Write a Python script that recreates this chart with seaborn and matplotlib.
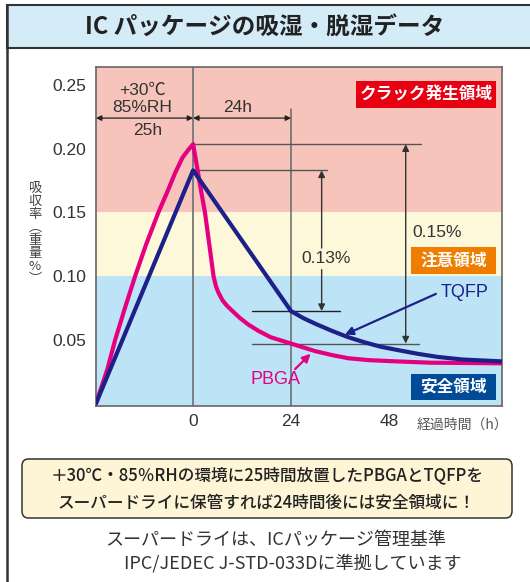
import matplotlib
matplotlib.use("Agg")
import matplotlib.pyplot as plt
import seaborn as sns
import pandas as pd
from matplotlib.patches import Rectangle, FancyBboxPatch
from matplotlib.lines import Line2D

# ---------------- data ----------------
pbga_x = [-23.8, -21.0, -19.1, -16.5, -14.2, -11.5, -8.5, -6.2, -4.4, -2.6, -1.2, 0.0,
          1.0, 2.0, 2.9, 4.0, 5.0, 5.6, 6.2, 7.2, 8.2, 9.5, 11.5, 13.5, 16.0, 19.0, 22.0,
          24.0, 27.0, 30.0, 34.0, 38.0, 43.0, 50.0, 58.0, 66.0, 75.7]
pbga_y = [0.0, 0.027, 0.050, 0.077, 0.100, 0.125, 0.150, 0.167, 0.181, 0.193, 0.199, 0.2035,
          0.185, 0.166, 0.150, 0.124, 0.100, 0.092, 0.087, 0.081, 0.077, 0.073, 0.067, 0.062,
          0.057, 0.052, 0.049, 0.047, 0.044, 0.041, 0.038, 0.0355, 0.034, 0.033, 0.032,
          0.0318, 0.0315]
tqfp_x = [-23.8, 0.0, 24.0, 27.0, 30.0, 34.0, 38.0, 42.0, 46.0, 50.0, 55.0, 60.0, 66.0, 75.7]
tqfp_y = [0.0, 0.183, 0.0725, 0.067, 0.0625, 0.057, 0.052, 0.048, 0.0445, 0.042, 0.039,
          0.0365, 0.0345, 0.033]

zone_limits = [0.10, 0.15]            # safe / caution / crack thresholds
zone_labels = ["安全領域", "注意領域", "クラック発生領域"]
y_ticks = [0.05, 0.10, 0.15, 0.20, 0.25]
y_ticklabels = ["0.05", "0.10", "0.15", "0.20", "0.25"]
x_ticks = [0, 24, 48]
x_ticklabels = ["0", "24", "48"]
xlim = (-23.8, 75.7)
ylim = (-0.002, 0.2641)

pbga_peak = 0.2035
tqfp_peak = 0.183
tqfp_24h = 0.0725
pbga_24h = 0.047

title = "IC パッケージの吸湿・脱湿データ"
box_lines = ["＋30℃・85％RHの環境に25時間放置したPBGAとTQFPを",
             "スーパードライに保管すれば24時間後には安全領域に！"]
note_lines = ["スーパードライは、ICパッケージ管理基準",
              "IPC/JEDEC J-STD-033Dに準拠しています"]

# ---------------- style ----------------
sns.set_theme(style="white")
plt.rcParams['font.family'] = ['Noto Sans CJK JP', 'DejaVu Sans']
LATIN = ['Liberation Sans', 'Noto Sans CJK JP', 'DejaVu Sans']

MAGENTA = "#E4007F"
NAVY = "#1D2088"
RED_BG = "#F7C4BB"
YEL_BG = "#FEF8DA"
BLUE_BG = "#BDE3F7"
GRAY = "#555555"
TXT = "#333333"

W, H = 530, 582
fig = plt.figure(figsize=(W / 100, H / 100), dpi=100)
fig.patch.set_facecolor("white")

def fx(x):
    return x / W

def fy(y):
    return 1 - y / H

ax = fig.add_axes([fx(96), fy(406), fx(502) - fx(96), fy(67) - fy(406)])

# zones
ax.axhspan(ylim[0], zone_limits[0], color=BLUE_BG, lw=0, zorder=0)
ax.axhspan(zone_limits[0], zone_limits[1], color=YEL_BG, lw=0, zorder=0)
ax.axhspan(zone_limits[1], ylim[1], color=RED_BG, lw=0, zorder=0)

# reference lines
ax.axvline(0, color="#777777", lw=1.3, zorder=1)
ax.plot([24, 24], [ylim[0], 0.231], color="#666666", lw=1.1, zorder=1)
ax.plot([0, 55.8], [pbga_peak, pbga_peak], color=GRAY, lw=1.0, zorder=1)
ax.plot([0, 32.8], [tqfp_peak, tqfp_peak], color=GRAY, lw=1.0, zorder=1)
ax.plot([14.4, 36.0], [tqfp_24h, tqfp_24h], color="#222222", lw=1.0, zorder=1)
ax.plot([14.4, 55.4], [pbga_24h, pbga_24h], color=GRAY, lw=1.0, zorder=1)

# curves
df_p = pd.DataFrame({"x": pbga_x, "y": pbga_y})
df_t = pd.DataFrame({"x": tqfp_x, "y": tqfp_y})
sns.lineplot(data=df_p, x="x", y="y", ax=ax, color=MAGENTA, lw=3.0, estimator=None,
             sort=False, zorder=3)
sns.lineplot(data=df_t, x="x", y="y", ax=ax, color=NAVY, lw=3.0, estimator=None,
             sort=False, zorder=3)

ax.set_xlim(*xlim)
ax.set_ylim(*ylim)
ax.set_xticks(x_ticks)
ax.set_xticklabels(x_ticklabels, family=LATIN)
ax.set_yticks(y_ticks)
ax.set_yticklabels(y_ticklabels, family=LATIN)
ax.set_xlabel("")
ax.set_ylabel("")
ax.tick_params(axis="both", direction="inout", length=10, width=1.0, color=GRAY,
               labelsize=12.5, labelcolor=TXT)
ax.tick_params(axis="y", pad=2)
ax.tick_params(axis="x", pad=1)
for s in ax.spines.values():
    s.set_color("#666666")
    s.set_linewidth(1.2)
    s.set_visible(True)

# horizontal time arrows
arrow_kw = dict(arrowstyle="<|-|>", color="#222222", lw=0.9, mutation_scale=8,
                shrinkA=0, shrinkB=0)
ax.annotate("", xy=(0, 0.224), xytext=(xlim[0], 0.224), arrowprops=arrow_kw, zorder=4)
ax.annotate("", xy=(24, 0.224), xytext=(0, 0.224), arrowprops=arrow_kw, zorder=4)
tk = dict(ha="center", va="center", fontsize=12.5, color=TXT, family=LATIN)
ax.text(-12.5, 0.246, "+30℃", **tk)
ax.text(-12.5, 0.232, "85%RH", **tk)
ax.text(-11.2, 0.2145, "25h", **tk)
ax.text(11.0, 0.232, "24h", **tk)

# vertical difference arrows
one_kw = dict(arrowstyle="-|>", color="#333333", lw=1.0, mutation_scale=10,
              shrinkA=0, shrinkB=0)
ax.annotate("", xy=(31.5, tqfp_peak), xytext=(31.5, 0.122), arrowprops=one_kw, zorder=4)
ax.annotate("", xy=(31.5, tqfp_24h), xytext=(31.5, 0.105), arrowprops=one_kw, zorder=4)
ax.text(32.6, 0.1135, "0.13%", **tk)
two_kw = dict(arrowstyle="<|-|>", color="#333333", lw=1.0, mutation_scale=10,
              shrinkA=0, shrinkB=0)
ax.annotate("", xy=(52.1, pbga_peak), xytext=(52.1, pbga_24h), arrowprops=two_kw, zorder=4)
ax.text(59.8, 0.1345, "0.15%", **tk)

# series labels
ax.annotate("", xy=(37.2, 0.054), xytext=(59.5, 0.086),
            arrowprops=dict(arrowstyle="-|>", color=NAVY, lw=1.6, mutation_scale=12,
                            shrinkA=0, shrinkB=0), zorder=5)
ax.text(60.6, 0.087, "TQFP", ha="left", va="center", fontsize=13, color=NAVY, family=LATIN)
ax.annotate("", xy=(28.8, 0.039), xytext=(25.0, 0.027),
            arrowprops=dict(arrowstyle="-|>", color=MAGENTA, lw=1.6, mutation_scale=12,
                            shrinkA=0, shrinkB=0), zorder=5)
ax.text(20.3, 0.0186, "PBGA", ha="center", va="center", fontsize=13, color=MAGENTA,
        family=LATIN)

# zone label boxes (figure pixel coords)
def label_box(x0, y0, x1, y1, color, text):
    fig.add_artist(Rectangle((fx(x0), fy(y1)), fx(x1) - fx(x0), fy(y0) - fy(y1),
                             transform=fig.transFigure, facecolor=color, edgecolor="none",
                             zorder=5))
    fig.text(fx((x0 + x1) / 2), fy((y0 + y1) / 2), text, ha="center", va="center",
             color="white", fontsize=12, fontweight="bold", zorder=6)

label_box(356, 81, 496, 108, "#E60012", zone_labels[2])
label_box(411, 247, 496, 274, "#EE7D00", zone_labels[1])
label_box(411, 374, 496, 400, "#004A97", zone_labels[0])

# axis titles
fig.text(fx(35), fy(234), "吸\n収\n率\n︵\n重\n量\n%\n︶", ha="center", va="center",
         fontsize=9.5, color="#444444", linespacing=1.0)
fig.text(fx(462), fy(425), "経過時間（h）", ha="center", va="center", fontsize=10,
         color="#555555")

# outer frame and title band
fig.add_artist(Rectangle((fx(7), fy(48)), fx(540) - fx(7), fy(5) - fy(48),
                         transform=fig.transFigure, facecolor="#D4ECF8",
                         edgecolor="#333333", lw=1.5, zorder=2))
fig.add_artist(Line2D([fx(7), fx(7)], [fy(5), fy(590)], transform=fig.transFigure,
                      color="#333333", lw=1.8, zorder=2))
fig.text(fx(265), fy(28), title, ha="center", va="center", fontsize=17,
         fontweight="bold", color="#222222", zorder=3)

# bottom message box
fig.add_artist(FancyBboxPatch((fx(22), fy(518)), fx(512) - fx(22), fy(459) - fy(518),
                              boxstyle="round,pad=0,rounding_size=0.012",
                              transform=fig.transFigure, facecolor="#FDF5D5",
                              edgecolor="#333333", lw=1.1, zorder=2))
fig.text(fx(267), fy(475), box_lines[0], ha="center", va="center", fontsize=12,
         fontweight="medium", color="#222222", zorder=3)
fig.text(fx(267), fy(503), box_lines[1], ha="center", va="center", fontsize=12,
         fontweight="medium", color="#222222", zorder=3)
fig.text(fx(276), fy(540), note_lines[0], ha="center", va="center", fontsize=13,
         color="#333333")
fig.text(fx(293), fy(563), note_lines[1], ha="center", va="center", fontsize=13,
         color="#333333")

fig.savefig("out.png", dpi=100)
